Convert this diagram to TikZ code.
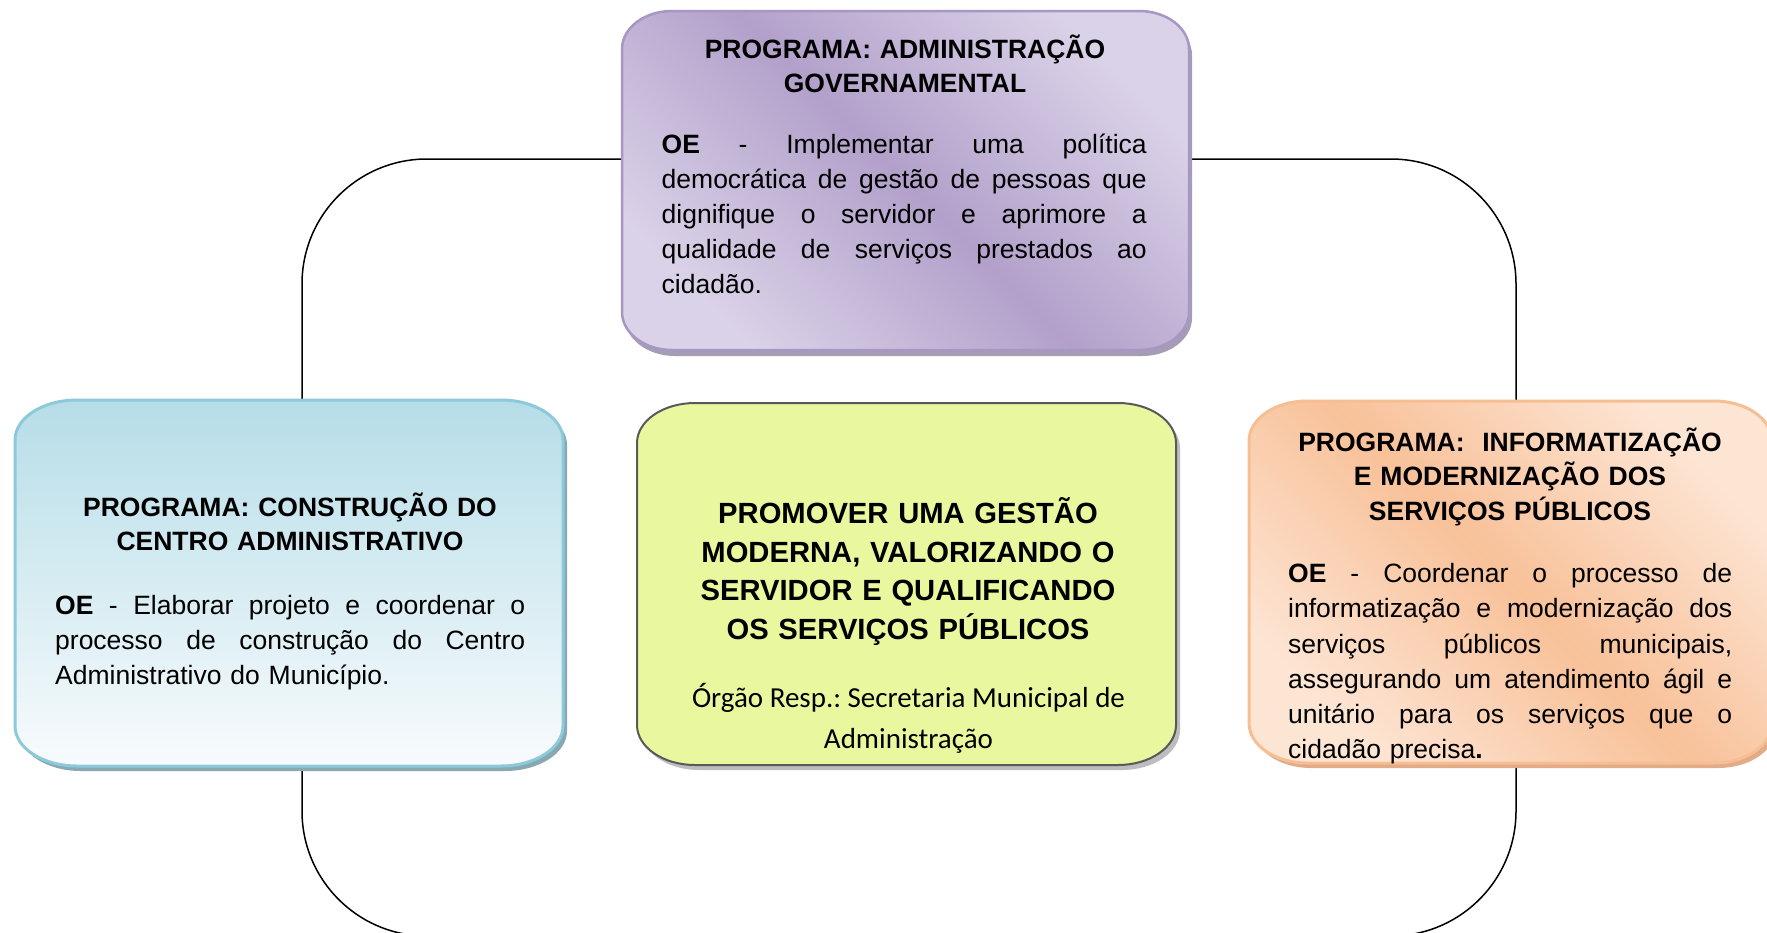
\documentclass[tikz,border=0pt]{standalone}
\usepackage{fontspec}
\setmainfont{Liberation Sans}
\newfontfamily\calib{Carlito}
\definecolor{purlight}{HTML}{DAD2E8}
\definecolor{purdark}{HTML}{B2A0CA}
\definecolor{purborder}{HTML}{A797C4}
\definecolor{purshadow}{HTML}{A59DB3}
\definecolor{bluetop}{HTML}{B6DDE8}
\definecolor{bluebot}{HTML}{F8FBFD}
\definecolor{blueborder}{HTML}{8CCAD9}
\definecolor{blueshadow}{HTML}{88A9B4}
\definecolor{greenfill}{HTML}{E9F79E}
\definecolor{greenborder}{HTML}{595959}
\definecolor{greenshadow}{HTML}{BDBDBD}
\definecolor{orlight}{HTML}{FDE5D4}
\definecolor{ordark}{HTML}{F8C199}
\definecolor{orborder}{HTML}{F6BE93}
\definecolor{orshadow}{HTML}{E3AC88}
\def\rrbox#1#2#3#4#5#6{(#1+#5,#2) -- (#3-#5,#2) arc[start angle=270,end angle=360,x radius=#5,y radius=#6] -- (#3,#4-#6) arc[start angle=0,end angle=90,x radius=#5,y radius=#6] -- (#1+#5,#4) arc[start angle=90,end angle=180,x radius=#5,y radius=#6] -- (#1,#2+#6) arc[start angle=180,end angle=270,x radius=#5,y radius=#6] -- cycle}
\newcommand{\jline}[2]{\makebox[#1pt][s]{\spaceskip=0pt\xspaceskip=0pt #2}\\}
\tikzset{
  loopline/.style={line width=1.5pt, draw=black, rounded corners=125pt},
  bodytext/.style={inner sep=0pt, anchor=base west, align=left, font=\fontsize{26.5}{35.2}\selectfont},
  titletext/.style={inner sep=0pt, anchor=base, align=center, text width=560pt, font=\bfseries\fontsize{26.5}{34}\selectfont},
}
\begin{document}
\begin{tikzpicture}[x=1pt,y=-1pt]
\clip (0,0) rectangle (1767,932);
\fill[white] (0,0) rectangle (1767,932);
% connector loop
\coordinate (loopTL) at (302,159);
\coordinate (loopBR) at (1516,936);
\draw[loopline] (loopTL) rectangle (loopBR);
% top purple box
\fill[purshadow] \rrbox{625}{17}{1192}{356}{50}{38};
\path[left color=purlight, right color=purlight, middle color=purdark, shading angle=-45] \rrbox{622}{11}{1189}{350}{50}{38};
\draw[purborder, line width=2.5pt] \rrbox{622}{11}{1189}{350}{50}{38};
% left blue box
\fill[blueshadow] \rrbox{19}{405}{567}{771}{62}{40};
\path[top color=bluetop, bottom color=bluebot] \rrbox{15}{400}{563}{766}{62}{40};
\draw[blueborder, line width=3pt] \rrbox{15}{400}{563}{766}{62}{40};
% center green box
\fill[greenshadow] \rrbox{641}{408}{1180}{770}{58}{40};
\fill[greenfill] \rrbox{637}{403}{1176}{765}{58}{40};
\draw[greenborder, line width=2pt] \rrbox{637}{403}{1176}{765}{58}{40};
% right orange box
\fill[orshadow] \rrbox{1253}{406}{1776}{768}{58}{40};
\path[left color=orlight, right color=orlight, middle color=ordark, shading angle=-45] \rrbox{1249}{401}{1772}{763}{58}{40};
\draw[orborder, line width=3pt] \rrbox{1249}{401}{1772}{763}{58}{40};
% texts
\node[titletext] (toptitle) at (905,58) {PROGRAMA: ADMINISTRAÇÃO\\GOVERNAMENTAL};
\node[bodytext, text width=485pt] (topbody) at (661.5,153) {%
\jline{485}{\textbf{OE} - Implementar uma política}%
\jline{485}{democrática de gestão de pessoas que}%
\jline{485}{dignifique o servidor e aprimore a}%
\jline{485}{qualidade de serviços prestados ao}%
cidadão.};
\node[titletext] (lefttitle) at (290,516.5) {PROGRAMA: CONSTRUÇÃO DO\\CENTRO ADMINISTRATIVO};
\node[bodytext, text width=470pt] (leftbody) at (55,614) {%
\jline{470}{\textbf{OE} - Elaborar projeto e coordenar o}%
\jline{470}{processo de construção do Centro}%
Administrativo do Município.};
\node[titletext, font=\bfseries\fontsize{29.2}{38.7}\selectfont] (centertitle) at (908,523.5) {PROMOVER UMA GESTÃO\\MODERNA, VALORIZANDO O\\SERVIDOR E QUALIFICANDO\\OS SERVIÇOS PÚBLICOS};
\node[titletext, font=\calib\fontsize{29}{41.5}\selectfont] (centersub) at (908.5,707) {\makebox{\spaceskip=0pt\xspaceskip=0pt\frenchspacing Órgão Resp.: Secretaria Municipal de}\\Administração};
\node[titletext, font=\bfseries\fontsize{26.5}{34.3}\selectfont] (righttitle) at (1510,451.5) {PROGRAMA:\ \ INFORMATIZAÇÃO\\E MODERNIZAÇÃO DOS\\SERVIÇOS PÚBLICOS};
\node[bodytext, text width=444pt] (rightbody) at (1288,582.6) {%
\jline{444}{\textbf{OE} - Coordenar o processo de}%
\jline{444}{informatização e modernização dos}%
\jline{444}{serviços públicos municipais,}%
\jline{444}{assegurando um atendimento ágil e}%
\jline{444}{unitário para os serviços que o}%
cidadão precisa\textbf{.}};
\end{tikzpicture}
\end{document}
